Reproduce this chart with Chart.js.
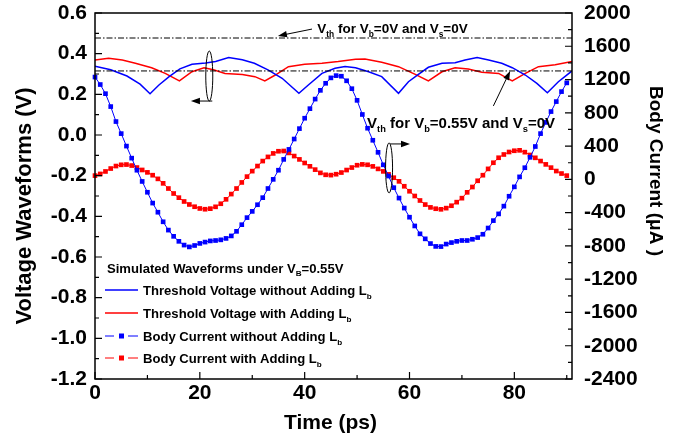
<!DOCTYPE html>
<html>
<head>
<meta charset="utf-8">
<script src="https://cdn.jsdelivr.net/npm/chart.js@4.4.1/dist/chart.umd.min.js"></script>
<style>
  html, body { margin: 0; padding: 0; background: #fff; }
  #wrap { position: relative; width: 694px; height: 441px; }
</style>
</head>
<body>
<div id="wrap"><canvas id="chart" width="694" height="441"></canvas></div>
<script>
/* ---------- data ---------- */
const bodyTime = [0,1,2,3,4,5,6,7,8,9,10,11,12,13,14,15,16,17,18,19,20,21,22,23,24,25,26,27,28,29,
  30,31,32,33,34,35,36,37,38,39,40,41,42,43,44,45,46,47,48,49,50,51,52,53,54,55,56,57,58,59,
  60,61,62,63,64,65,66,67,68,69,70,71,72,73,74,75,76,77,78,79,80,81,82,83,84,85,86,87,88,89,90];

// body current without L_b (uA)
const bodyNoLb = [1230,1140,1030,875,695,550,400,255,110,-25,
  -155,-285,-395,-510,-610,-685,-745,-790,-812,-795,
  -770,-754,-740,-735,-727,-710,-680,-625,-545,-460,
  -385,-305,-220,-110,0,110,240,360,485,610,
  735,850,965,1070,1155,1220,1247,1240,1185,1090,
  950,780,615,470,325,175,40,-100,-225,-345,
  -455,-560,-655,-715,-772,-806,-808,-778,-760,-745,
  -735,-735,-720,-700,-660,-585,-496,-415,-322,-203,
  -90,30,140,265,395,550,685,815,935,1055,
  1160];

// body current with L_b (uA)
const bodyLb = [45,65,95,130,160,175,178,166,142,113,
  84,50,6,-48,-110,-170,-220,-266,-302,-329,
  -350,-359,-352,-330,-293,-240,-177,-110,-37,33,
  99,160,220,270,312,338,341,318,280,240,
  197,157,117,78,55,51,62,82,112,142,
  170,180,175,156,126,96,60,20,-24,-83,
  -143,-200,-254,-303,-337,-353,-360,-346,-317,-274,
  -226,-156,-92,-17,50,126,200,260,299,329,
  344,349,327,293,259,220,180,141,100,70,
  45];

// threshold voltage without L_b (V)
const vthTimeNoLb = [0,3.0,6.1,8.6,10.5,12.2,14.2,16.2,18.5,21.1,23.0,25.5,28.1,30.4,33.0,35.7,38.9,40.7,
  43.3,45.8,47.7,49.7,52.2,54.7,57.9,59.8,61.7,63.6,66.2,68.7,70.6,72.9,75.1,77.6,79.6,82.1,84.3,86.3,88.4,91];
const vthNoLb = [0.338,0.321,0.290,0.250,0.203,0.246,0.288,0.325,0.348,0.354,0.362,0.381,0.370,0.353,0.320,0.279,0.205,0.246,
  0.303,0.328,0.337,0.331,0.311,0.287,0.205,0.262,0.298,0.333,0.353,0.355,0.369,0.381,0.369,0.353,0.331,0.295,0.254,0.208,0.262,0.315];

// threshold voltage with L_b (V)
const vthTimeLb = [0,2.6,5.2,7.7,10.8,13.4,16.1,18.5,20.8,22.6,24.8,28.1,30.5,32.4,34.4,36.9,40.0,43.3,
  46.4,49.7,51.5,54.7,57.9,61.1,63.6,66.2,68.7,71.2,73.8,77.0,79.6,82.1,84.6,87.8,91];
const vthLb = [0.369,0.377,0.369,0.353,0.331,0.303,0.266,0.311,0.331,0.321,0.303,0.298,0.287,0.266,0.295,0.336,0.348,0.353,
  0.361,0.372,0.374,0.358,0.336,0.298,0.266,0.311,0.331,0.325,0.309,0.303,0.266,0.303,0.336,0.345,0.362];

// reference threshold levels (V)
const refTime = [0, 91];
const vthRefZero = [0.477, 0.477];   // Vb=0V, Vs=0V
const vthRefBody = [0.315, 0.315];   // Vb=0.55V, Vs=0V

const xTicks = [0, 20, 40, 60, 80];
const voltTicks = [-1.2, -1.0, -0.8, -0.6, -0.4, -0.2, 0.0, 0.2, 0.4, 0.6];
const currentTicks = [-2400, -2000, -1600, -1200, -800, -400, 0, 400, 800, 1200, 1600, 2000];

/* ---------- helpers ---------- */
const FONT = '"Liberation Sans", Arial, Helvetica, sans-serif';
const BLUE = '#0000ff';
const RED = '#ff0000';

function pts(xs, ys) {
  return xs.map((v, i) => ({ x: v, y: ys[i] }));
}

// draws text runs, [text, isSub]
function rich(ctx, parts, x, y, size, weight) {
  let cx = x;
  parts.forEach(([t, sub]) => {
    const s = sub ? size * 0.62 : size;
    ctx.font = `${weight} ${s}px ${FONT}`;
    ctx.fillText(t, cx, sub ? y + size * 0.28 : y);
    cx += ctx.measureText(t).width;
  });
}

function arrow(ctx, x1, y1, x2, y2) {
  const head = 9, w = 3.2;
  const a = Math.atan2(y2 - y1, x2 - x1);
  ctx.beginPath();
  ctx.moveTo(x1, y1);
  ctx.lineTo(x2 - head * 0.6 * Math.cos(a), y2 - head * 0.6 * Math.sin(a));
  ctx.stroke();
  ctx.beginPath();
  ctx.moveTo(x2, y2);
  ctx.lineTo(x2 - head * Math.cos(a) + w * Math.sin(a), y2 - head * Math.sin(a) - w * Math.cos(a));
  ctx.lineTo(x2 - head * Math.cos(a) - w * Math.sin(a), y2 - head * Math.sin(a) + w * Math.cos(a));
  ctx.closePath();
  ctx.fill();
}

// keep label overflow from pushing the plot area around
function noPad(s) {
  s.paddingTop = 0; s.paddingBottom = 0; s.paddingLeft = 0; s.paddingRight = 0;
}

/* ---------- frame, ticks, legend, notes ---------- */
const decor = {
  id: 'decor',
  afterDraw(chart) {
    const { ctx, chartArea: ca, scales } = chart;
    const sx = scales.x, sv = scales.yV, si = scales.yI;
    ctx.save();
    ctx.fillStyle = '#000';
    ctx.strokeStyle = '#000';

    // frame
    ctx.lineWidth = 1.5;
    ctx.strokeRect(ca.left, ca.top, ca.right - ca.left, ca.bottom - ca.top);

    // inward ticks
    ctx.lineWidth = 1.2;
    ctx.beginPath();
    const tickSet = (arr, fn) => {
      arr.forEach((v, i) => {
        fn(v, 7);
        if (i < arr.length - 1) fn((v + arr[i + 1]) / 2, 4);
      });
    };
    tickSet(voltTicks, (v, l) => {
      const p = sv.getPixelForValue(v);
      ctx.moveTo(ca.left, p); ctx.lineTo(ca.left + l, p);
    });
    tickSet(currentTicks, (v, l) => {
      const p = si.getPixelForValue(v);
      ctx.moveTo(ca.right, p); ctx.lineTo(ca.right - l, p);
    });
    tickSet(xTicks.concat([100]), (v, l) => {
      if (v > 91) return;
      const p = sx.getPixelForValue(v);
      ctx.moveTo(p, ca.bottom); ctx.lineTo(p, ca.bottom - l);
    });
    ctx.stroke();

    // axis titles
    ctx.textBaseline = 'middle';
    ctx.textAlign = 'center';
    ctx.font = `bold 21px ${FONT}`;
    ctx.fillText('Time (ps)', (ca.left + ca.right) / 2 - 3, 423);

    ctx.save();
    ctx.translate(25, 206);
    ctx.rotate(-Math.PI / 2);
    ctx.font = `bold 22px ${FONT}`;
    ctx.fillText('Voltage Waveforms (V)', 0, 0);
    ctx.restore();

    ctx.save();
    ctx.translate(655, 171);
    ctx.rotate(Math.PI / 2);
    ctx.font = `bold 19px ${FONT}`;
    ctx.fillText('Body Current (\u03bcA )', 0, 0);
    ctx.restore();

    // legend
    ctx.textAlign = 'left';
    ctx.textBaseline = 'alphabetic';
    const lx = ca.left + 10, tx = ca.left + 48;
    const L = 13.1;
    rich(ctx, [['Simulated Waveforms under V'], ['B', true], ['=0.55V']], ca.left + 12, 272.5, L, 'bold');
    const rows = [
      { y: 295, color: BLUE, marker: false, label: 'Threshold Voltage without Adding L' },
      { y: 318, color: RED, marker: false, label: 'Threshold Voltage with Adding L' },
      { y: 341, color: BLUE, marker: true, label: 'Body Current without Adding L' },
      { y: 363, color: RED, marker: true, label: 'Body Current with Adding L' }
    ];
    rows.forEach(r => {
      const ly = r.y - 5;
      ctx.strokeStyle = r.color;
      ctx.fillStyle = r.color;
      ctx.lineWidth = r.marker ? 1 : 1.6;
      ctx.beginPath();
      if (r.marker) {
        ctx.moveTo(lx, ly); ctx.lineTo(lx + 9, ly);
        ctx.moveTo(lx + 23, ly); ctx.lineTo(lx + 33, ly);
      } else {
        ctx.moveTo(lx, ly); ctx.lineTo(lx + 33, ly);
      }
      ctx.stroke();
      if (r.marker) ctx.fillRect(lx + 14, ly - 2.5, 5, 5);
      ctx.fillStyle = '#000';
      rich(ctx, [[r.label], ['b', true]], tx, r.y, L, 'bold');
    });

    // notes
    ctx.fillStyle = '#000';
    ctx.strokeStyle = '#000';
    ctx.lineWidth = 1;
    rich(ctx, [['V'], ['th', true], [' for V'], ['b', true], ['=0V and V'], ['s', true], ['=0V']],
      sx.getPixelForValue(42.4), sv.getPixelForValue(0.502), 13.5, 'bold');
    arrow(ctx, sx.getPixelForValue(41.4), sv.getPixelForValue(0.521),
      sx.getPixelForValue(34.9), sv.getPixelForValue(0.487));

    rich(ctx, [['V'], ['th', true], [' for V'], ['b', true], ['=0.55V and V'], ['s', true], ['=0V']],
      sx.getPixelForValue(51.9), sv.getPixelForValue(0.035), 15, 'bold');
    arrow(ctx, sx.getPixelForValue(76.0), sv.getPixelForValue(0.143),
      sx.getPixelForValue(79.2), sv.getPixelForValue(0.315));

    // group ellipses
    const e1x = sx.getPixelForValue(21.8), e1y = sv.getPixelForValue(0.29);
    ctx.beginPath();
    ctx.ellipse(e1x, e1y, 3.5, 25, 0, 0, Math.PI * 2);
    ctx.stroke();
    arrow(ctx, e1x + 3, e1y + 25, sx.getPixelForValue(18.3), e1y + 25);

    const e2x = sx.getPixelForValue(56.1), e2y = sv.getPixelForValue(-0.162);
    ctx.beginPath();
    ctx.ellipse(e2x, e2y, 3.5, 25, 0, 0, Math.PI * 2);
    ctx.stroke();
    arrow(ctx, e2x + 1, e2y - 24, sx.getPixelForValue(60.1), e2y - 24);

    ctx.restore();
  }
};

/* ---------- chart ---------- */
const refStyle = {
  borderColor: '#000', borderWidth: 1, borderDash: [6, 2, 1.5, 2],
  pointRadius: 0, yAxisID: 'yV', fill: false
};

new Chart(document.getElementById('chart'), {
  type: 'line',
  data: {
    datasets: [
      Object.assign({ label: 'ref0', data: pts(refTime, vthRefZero) }, refStyle),
      Object.assign({ label: 'ref055', data: pts(refTime, vthRefBody) }, refStyle),
      {
        label: 'Threshold Voltage without Adding Lb',
        data: pts(vthTimeNoLb, vthNoLb),
        borderColor: BLUE, borderWidth: 1.5, pointRadius: 0, yAxisID: 'yV'
      },
      {
        label: 'Threshold Voltage with Adding Lb',
        data: pts(vthTimeLb, vthLb),
        borderColor: RED, borderWidth: 1.5, pointRadius: 0, yAxisID: 'yV'
      },
      {
        label: 'Body Current without Adding Lb',
        data: pts(bodyTime, bodyNoLb),
        borderColor: BLUE, backgroundColor: BLUE, borderWidth: 1,
        pointStyle: 'rect', pointRadius: 3.3, pointBorderWidth: 0, yAxisID: 'yI', clip: 4
      },
      {
        label: 'Body Current with Adding Lb',
        data: pts(bodyTime, bodyLb),
        borderColor: RED, backgroundColor: RED, borderWidth: 1,
        pointStyle: 'rect', pointRadius: 3.3, pointBorderWidth: 0, yAxisID: 'yI', clip: 4
      }
    ]
  },
  options: {
    responsive: false,
    animation: false,
    layout: { padding: { top: 13, left: 0, right: 0, bottom: 0 } },
    plugins: { legend: { display: false }, tooltip: { enabled: false } },
    elements: { line: { tension: 0 } },
    scales: {
      x: {
        type: 'linear', min: 0, max: 91,
        afterBuildTicks: s => { s.ticks = xTicks.map(v => ({ value: v })); },
        afterFit: s => { s.height = 62; noPad(s); },
        grid: { display: false, drawTicks: false },
        border: { display: false },
        ticks: { padding: 2, color: '#000', font: { family: FONT, size: 21, weight: 'bold' } }
      },
      yV: {
        position: 'left', min: -1.2, max: 0.6,
        afterBuildTicks: s => { s.ticks = voltTicks.map(v => ({ value: v })); },
        afterFit: s => { s.width = 95; noPad(s); },
        grid: { display: false, drawTicks: false },
        border: { display: false },
        ticks: {
          padding: 8, color: '#000', font: { family: FONT, size: 21, weight: 'bold' },
          callback: v => v.toFixed(1)
        }
      },
      yI: {
        position: 'right', min: -2400, max: 2000,
        afterBuildTicks: s => { s.ticks = currentTicks.map(v => ({ value: v })); },
        afterFit: s => { s.width = 122; noPad(s); },
        grid: { display: false, drawTicks: false },
        border: { display: false },
        ticks: {
          padding: 12, color: '#000', font: { family: FONT, size: 21, weight: 'bold' },
          callback: v => String(v)
        }
      }
    }
  },
  plugins: [decor]
});
</script>
</body>
</html>
